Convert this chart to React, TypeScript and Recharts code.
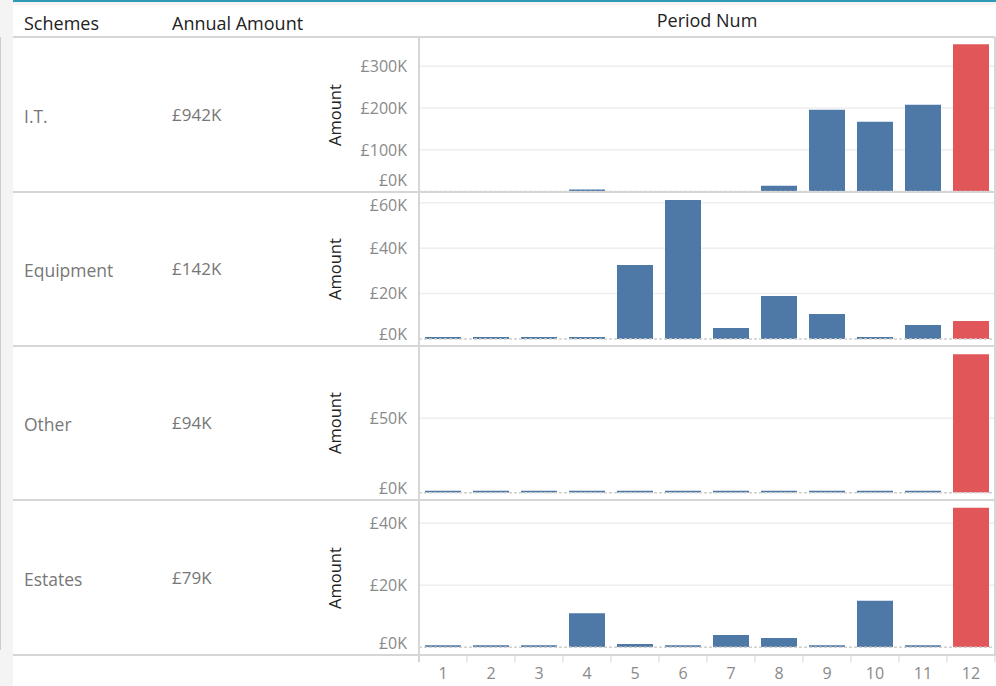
import { BarChart, Bar, XAxis, YAxis, CartesianGrid, ReferenceLine, Cell } from "recharts";

const periods = [1, 2, 3, 4, 5, 6, 7, 8, 9, 10, 11, 12];
const schemes = ["I.T.", "Equipment", "Other", "Estates"];
const annualAmounts = ["£942K", "£142K", "£94K", "£79K"];

const itAmounts = [null, null, null, 3500, null, null, null, 14000, 196000, 167000, 208000, 353000];
const equipmentAmounts = [0, 0, 0, 0, 32600, 61200, 4800, 18900, 11000, 0, 6200, 7900];
const otherAmounts = [0, 0, 0, 0, 0, 0, 0, 0, 0, 0, 0, 93000];
const estatesAmounts = [0, 0, 0, 11000, 1100, 0, 4000, 3000, 0, 15000, 0, 45000];

const itTicks = [0, 100000, 200000, 300000];
const equipmentTicks = [0, 20000, 40000, 60000];
const otherTicks = [0, 50000];
const estatesTicks = [0, 20000, 40000];

const BLUE = "#4e79a7";
const RED = "#e15759";
const FONT = '"Open Sans", "Noto Sans", sans-serif';
const LINE = "#d6d6d6";

// pane geometry (page px)
const paneTop = [37, 192, 346, 500];
const paneBottom = [192, 346, 500, 655];
const zeroY = [191.5, 339, 492.7, 647.3];
const amountMax = [368000, 64300, 97900, 47200];

const panels = [
  { values: itAmounts, ticks: itTicks },
  { values: equipmentAmounts, ticks: equipmentTicks },
  { values: otherAmounts, ticks: otherTicks },
  { values: estatesAmounts, ticks: estatesTicks },
];

const fmt = (v: number) => `£${Math.round(v / 1000)}K`;

function AmountTick(props: any) {
  const { x, y, payload, minY, maxY } = props;
  const ty = Math.max(minY, Math.min(maxY, y));
  return (
    <text x={x} y={ty} dy="0.36em" textAnchor="end" fill="#8a8a8a" fontSize={16} fontFamily={FONT}>
      {fmt(payload.value)}
    </text>
  );
}

function PeriodTick(props: any) {
  const { x, y, payload } = props;
  const last = payload.value === periods[periods.length - 1];
  return (
    <g>
      <line x1={x - 24} x2={x - 24} y1={y - 1} y2={y + 7} stroke="#e2e2e2" strokeWidth={1.5} />
      {last && <line x1={x + 24} x2={x + 24} y1={y - 1} y2={y + 7} stroke="#e2e2e2" strokeWidth={1.5} />}
      <text x={x} y={y + 24} textAnchor="middle" fill="#8a8a8a" fontSize={16} fontFamily={FONT}>
        {payload.value}
      </text>
    </g>
  );
}

function Panel({ i }: { i: number }) {
  const last = i === panels.length - 1;
  const plotTop = paneTop[i] + 1;
  const height = last ? 686 - plotTop : paneBottom[i] - plotTop;
  const data = periods.map((p, k) => ({ period: p, amount: panels[i].values[k] }));
  const ticks = panels[i].ticks;
  const maxY = paneBottom[i] - plotTop - 12;
  return (
    <div style={{ position: "absolute", left: 300, top: plotTop, width: 696, height }}>
      <BarChart
        width={696}
        height={height}
        data={data}
        margin={{ top: 0, right: 1, bottom: last ? 0 : paneBottom[i] - zeroY[i], left: 0 }}
      >
        <CartesianGrid
          vertical={false}
          horizontalValues={ticks.filter((t) => t > 0)}
          stroke="#eeeeee"
          strokeWidth={1.5}
        />
        <XAxis
          dataKey="period"
          hide={!last}
          height={last ? 686 - zeroY[i] : 0}
          axisLine={false}
          tickLine={false}
          interval={0}
          tick={(p: any) => <PeriodTick {...p} />}
        />
        <YAxis
          width={119}
          domain={[0, amountMax[i]]}
          ticks={ticks}
          interval={0}
          allowDataOverflow
          axisLine={false}
          tickLine={false}
          tickMargin={6}
          tick={(p: any) => <AmountTick {...p} minY={12} maxY={maxY} />}
        />
        <ReferenceLine y={0} stroke="#cfcfcf" strokeWidth={1.5} strokeDasharray="3 2" />
        <Bar
          dataKey="amount"
          barSize={36}
          isAnimationActive={false}
          minPointSize={(v: any) => (v == null ? 0 : 2)}
        >
          {data.map((d) => (
            <Cell key={d.period} fill={d.period === 12 ? RED : BLUE} />
          ))}
        </Bar>
      </BarChart>
    </div>
  );
}

function Txt({ x, y, children, style }: any) {
  return (
    <div
      style={{
        position: "absolute",
        left: x,
        top: y,
        transform: "translateY(-50%)",
        whiteSpace: "nowrap",
        lineHeight: 1.2,
        ...style,
      }}
    >
      {children}
    </div>
  );
}

const headStyle = { fontSize: 18, color: "#222" };

export default function App() {
  return (
    <div
      style={{
        position: "absolute",
        left: 0,
        top: 0,
        width: 996,
        height: 686,
        background: "#fff",
        overflow: "hidden",
        fontFamily: FONT,
      }}
    >
      {/* left gutter + top accent */}
      <div style={{ position: "absolute", left: 0, top: 0, width: 13, height: 686, background: "#f4f4f4" }} />
      <div style={{ position: "absolute", left: 0, top: 37, width: 1, height: 613, background: "#cccccc" }} />
      <div style={{ position: "absolute", left: 13, top: 0, width: 983, height: 2, background: "#2f9ab7" }} />
      <div style={{ position: "absolute", left: 13, top: 2, width: 983, height: 3, background: "#f4f4f4" }} />

      {/* headers */}
      <Txt x={24} y={24} style={headStyle}>Schemes</Txt>
      <Txt x={172} y={24} style={headStyle}>Annual Amount</Txt>
      <Txt x={707} y={21} style={{ ...headStyle, transform: "translate(-50%,-50%)" }}>
        Period Num
      </Txt>

      {panels.map((_, i) => (
        <Panel key={i} i={i} />
      ))}

      {schemes.map((s, i) => {
        const mid = (paneTop[i] + paneBottom[i]) / 2;
        return (
          <div key={s}>
            <Txt x={24} y={mid + 1} style={{ fontSize: 17.5, color: "#777" }}>{s}</Txt>
            <Txt x={172} y={mid} style={{ fontSize: 17, color: "#777" }}>{annualAmounts[i]}</Txt>
            <Txt
              x={335}
              y={mid}
              style={{ fontSize: 16.5, color: "#222", transform: "translate(-50%,-50%) rotate(-90deg)" }}
            >
              Amount
            </Txt>
          </div>
        );
      })}

      {/* table rules */}
      {[37, 192, 346, 500, 655].map((y) => (
        <div key={y} style={{ position: "absolute", left: 13, top: y - 1, width: 982, height: 2, background: LINE }} />
      ))}
      <div style={{ position: "absolute", left: 418, top: 37, width: 1.5, height: 625, background: LINE }} />
      <div style={{ position: "absolute", left: 994, top: 37, width: 2, height: 619, background: LINE }} />
    </div>
  );
}
